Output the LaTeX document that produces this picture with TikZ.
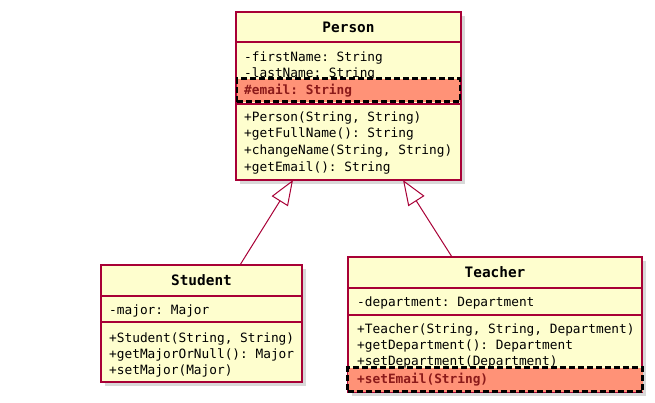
\documentclass[tikz,border=0pt]{standalone}
\usepackage{fontspec}
\setmonofont{DejaVu Sans Mono}
\usetikzlibrary{arrows.meta,shadows}

\definecolor{umlfill}{HTML}{FEFECE}
\definecolor{umlline}{HTML}{A80036}
\definecolor{hlfill}{HTML}{FF9277}
\definecolor{hltext}{HTML}{8B1A1A}

\tikzset{
  classbox/.style={rectangle,draw=umlline,fill=umlfill,line width=1.5pt,inner sep=0pt,
    drop shadow={shadow xshift=4pt,shadow yshift=-4pt,fill=black!30}},
  changedbox/.style={rectangle,draw=black,fill=hlfill,line width=2.6pt,inner sep=0pt,
    dash pattern=on 6pt off 3pt},
  member/.style={anchor=base west,inner sep=0pt,font=\ttfamily\fontsize{12.8}{15}\selectfont},
  changed/.style={member,text=hltext,font=\ttfamily\bfseries\fontsize{12.8}{15}\selectfont},
  classname/.style={anchor=base,inner sep=0pt,font=\ttfamily\bfseries\fontsize{14.4}{17}\selectfont},
  sepline/.style={draw=umlline,line width=1.5pt},
  extends/.style={draw=umlline,line width=1pt,-{Triangle[open,length=25pt,width=19pt]}}
}

\begin{document}
\begin{tikzpicture}[x=1pt,y=-1pt]
  \useasboundingbox (0,0) rectangle (655,402);
  % Person
  \node[classbox,minimum width=225pt,minimum height=168pt] (person) at (348.5,96) {};
  \draw[sepline] (236,42) -- (461,42);
  \draw[sepline] (236,104) -- (461,104);
  \node[classname] (personname) at (348.5,32) {Person};
  \node[member] (firstname) at (244,61) {-firstName: String};
  \node[member] (lastname) at (244,77) {-lastName: String};
  \node[changedbox,minimum width=223pt,minimum height=23pt] (emailbox) at (348.5,90) {};
  \node[changed] (email) at (244,94) {\#email: String};
  \node[member] (personctor) at (244,121) {+Person(String, String)};
  \node[member] (getfullname) at (244,137) {+getFullName(): String};
  \node[member] (changename) at (244,154) {+changeName(String, String)};
  \node[member] (getemail) at (244,171) {+getEmail(): String};
  %
  % Student
  \node[classbox,minimum width=201pt,minimum height=117pt] (student) at (201.5,323.5) {};
  \draw[sepline] (101,296) -- (302,296);
  \draw[sepline] (101,322) -- (302,322);
  \node[classname] (studentname) at (201.5,285) {Student};
  \node[member] (major) at (109,314) {-major: Major};
  \node[member] (studentctor) at (109,342) {+Student(String, String)};
  \node[member] (getmajor) at (109,358) {+getMajorOrNull(): Major};
  \node[member] (setmajor) at (109,374) {+setMajor(Major)};
  %
  % Teacher
  \node[classbox,minimum width=294pt,minimum height=135pt] (teacher) at (495,324.5) {};
  \draw[sepline] (348,288) -- (642,288);
  \draw[sepline] (348,315) -- (642,315);
  \node[classname] (teachername) at (495,277) {Teacher};
  \node[member] (department) at (357,306) {-department: Department};
  \node[member] (teacherctor) at (357,333) {+Teacher(String, String, Department)};
  \node[member] (getdepartment) at (357,349) {+getDepartment(): Department};
  \node[member] (setdepartment) at (357,365) {+setDepartment(Department)};
  \node[changedbox,minimum width=295pt,minimum height=24pt] (setemailbox) at (495,379.5) {};
  \node[changed] (setemail) at (357,383) {+setEmail(String)};
  %
  % generalisation
  \coordinate (studentup) at (240,265);
  \coordinate (personleft) at (293,180);
  \coordinate (teacherup) at (452,257);
  \coordinate (personright) at (403,180);
  \draw[extends] (studentup) -- (personleft);
  \draw[extends] (teacherup) -- (personright);
\end{tikzpicture}
\end{document}
